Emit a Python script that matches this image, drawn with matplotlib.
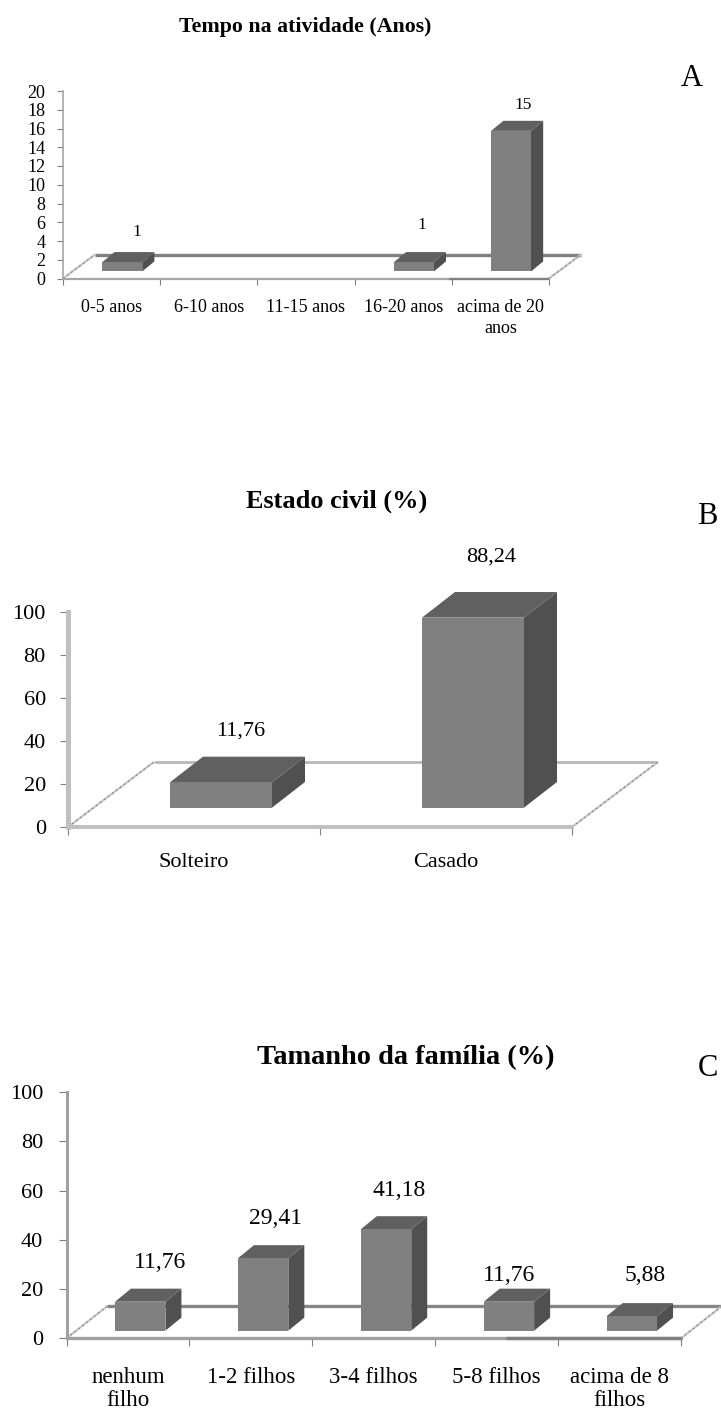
import matplotlib
matplotlib.use("Agg")
import matplotlib.pyplot as plt
from matplotlib.patches import Polygon

plt.rcParams['font.family'] = ['Liberation Serif', 'DejaVu Sans']

W, H = 721, 1410

# Data
tempo_labels = ['0-5 anos', '6-10 anos', '11-15 anos', '16-20 anos', 'acima de 20\nanos']
tempo_values = [1, 0, 0, 1, 15]
tempo_text = ['1', '', '', '1', '15']

civil_labels = ['Solteiro', 'Casado']
civil_values = [11.76, 88.24]
civil_text = ['11,76', '88,24']

familia_labels = ['nenhum\nfilho', '1-2 filhos', '3-4 filhos', '5-8 filhos', 'acima de 8\nfilhos']
familia_values = [11.76, 29.41, 41.18, 11.76, 5.88]
familia_text = ['11,76', '29,41', '41,18', '11,76', '5,88']

FRONT = '#808080'
TOP = '#606060'
SIDE = '#505050'


def draw_panel(fig, box, values, labels, texts, text_pos, ymax, ystep, cfg):
    """box is left, top, right, bottom in image pixels"""
    left, top, right, bottom = box
    ax = fig.add_axes([left / W, 1 - bottom / H, (right - left) / W, (bottom - top) / H])
    ax.patch.set_alpha(0)
    n = len(values)
    ax.set_xlim(0, n)
    ax.set_ylim(0, ymax)

    fdx, fdy = cfg['floor']
    ddx, ddy = cfg['depth']
    lift = cfg['lift']
    width = cfg['width']
    off = cfg['offset']

    # floor
    ax.plot([fdx, n + fdx], [fdy, fdy], color=cfg['back_color'], lw=cfg['back_lw'],
            clip_on=False, zorder=1, solid_capstyle='butt')
    for x0 in (0, n):
        ax.plot([x0, x0 + fdx], [0, fdy], color='#c4c4c4', lw=1.5,
                clip_on=False, zorder=1, solid_capstyle='butt')
        ax.plot([x0, x0 + fdx], [0, fdy], color='#8c8c8c', lw=0.9, ls=(0, (1.5, 2.5)),
                clip_on=False, zorder=1)

    # bars
    for i, v in enumerate(values):
        if v == 0:
            continue
        x0 = i + 0.5 + off - width / 2
        x1 = x0 + width
        y0 = lift
        y1 = lift + v
        ax.add_patch(Polygon([(x1, y0), (x1 + ddx, y0 + ddy), (x1 + ddx, y1 + ddy), (x1, y1)],
                             fc=SIDE, ec='none', clip_on=False, zorder=3))
        ax.add_patch(Polygon([(x0, y1), (x1, y1), (x1 + ddx, y1 + ddy), (x0 + ddx, y1 + ddy)],
                             fc=TOP, ec='none', clip_on=False, zorder=3))
        ax.bar(i + 0.5 + off, v, width=width, bottom=lift, color=FRONT, clip_on=False, zorder=4)

    # value labels
    for t, (px, py) in zip(texts, text_pos):
        if t:
            ax.annotate(t, xy=((px - left) / (right - left), (bottom - py) / (bottom - top)),
                        xycoords='axes fraction', ha='center', va='center',
                        fontsize=cfg['value_size'], color='black', annotation_clip=False)

    # axes
    for s in ('top', 'right'):
        ax.spines[s].set_visible(False)
    for s in ('left', 'bottom'):
        ax.spines[s].set_color(cfg['axis_color'])
    ax.spines['left'].set_linewidth(cfg['left_lw'])
    ax.spines['bottom'].set_linewidth(cfg['bottom_lw'])
    if cfg.get('dark_from') is not None:
        ax.plot([cfg['dark_from'], n], [0, 0], color='#808080', lw=cfg['bottom_lw'],
                clip_on=False, zorder=5, solid_capstyle='butt')
    ax.set_yticks(range(0, ymax + 1, ystep))
    ax.tick_params(axis='y', length=cfg['tick_len'], width=0.8, color='#808080',
                   labelsize=cfg['tick_size'], pad=cfg['ypad'])
    ax.set_xticks(range(n + 1))
    ax.set_xticklabels([])
    ax.tick_params(axis='x', which='major', length=cfg['tick_len'], width=0.8, color='#808080')
    ax.set_xticks([i + 0.5 for i in range(n)], minor=True)
    ax.set_xticklabels(labels, minor=True, fontsize=cfg['cat_size'], linespacing=cfg['linespacing'])
    ax.tick_params(axis='x', which='minor', length=0, pad=cfg['xpad'])
    return ax


fig = plt.figure(figsize=(W / 100, H / 100), dpi=100, facecolor='white')

draw_panel(fig, (63, 91, 549, 278.5), tempo_values, tempo_labels, tempo_text,
           [(137, 232), (0, 0), (0, 0), (422, 225), (523, 105)], 20, 2,
           dict(floor=(0.33, 2.56), depth=(0.125, 1.07), lift=0.75, width=0.41, offset=0.11,
                back_color='#808080', back_lw=2.4, axis_color='#a6a6a6', left_lw=1.2, bottom_lw=1.6,
                tick_len=4.3, tick_size=13, cat_size=13, value_size=12.5, ypad=8.5, xpad=15,
                linespacing=1.3, dark_from=3.97))

draw_panel(fig, (68, 611.7, 572, 827), civil_values, civil_labels, civil_text,
           [(240.5, 730.7), (491, 557)], 100, 20,
           dict(floor=(0.341, 30.2), depth=(0.131, 11.9), lift=9, width=0.405, offset=0.107,
                back_color='#b8b8b8', back_lw=2, axis_color='#c0c0c0', left_lw=3.6, bottom_lw=2.9,
                tick_len=6, tick_size=16, cat_size=16, value_size=16, ypad=10, xpad=19,
                linespacing=1.2))

draw_panel(fig, (66.5, 1092, 681, 1338.3), familia_values, familia_labels, familia_text,
           [(160.5, 1262), (276, 1219), (399, 1190.7), (509, 1275.7), (645, 1275.7)], 100, 20,
           dict(floor=(0.333, 13.1), depth=(0.13, 5.3), lift=3.1, width=0.41, offset=0.10,
                back_color='#868686', back_lw=2.4, axis_color='#a0a0a0', left_lw=2.2, bottom_lw=2.4,
                tick_len=5.8, tick_size=16, cat_size=16.5, value_size=17, ypad=11, xpad=20.5,
                linespacing=1.12, dark_from=3.58))

# titles and panel letters
fig.text(305.5 / W, 1 - 27 / H, 'Tempo na atividade (Anos)', ha='center', va='center',
         fontsize=15.75, fontweight='bold')
fig.text(337 / W, 1 - 501 / H, 'Estado civil (%)', ha='center', va='center',
         fontsize=18.9, fontweight='bold')
fig.text(405.5 / W, 1 - 1058 / H, 'Tamanho da família (%)', ha='center', va='center',
         fontsize=20.4, fontweight='bold')
fig.text(692 / W, 1 - 78 / H, 'A', ha='center', va='center', fontsize=22)
fig.text(707.5 / W, 1 - 516 / H, 'B', ha='center', va='center', fontsize=22)
fig.text(707.5 / W, 1 - 1068 / H, 'C', ha='center', va='center', fontsize=22)

fig.savefig('out.png', dpi=100)
